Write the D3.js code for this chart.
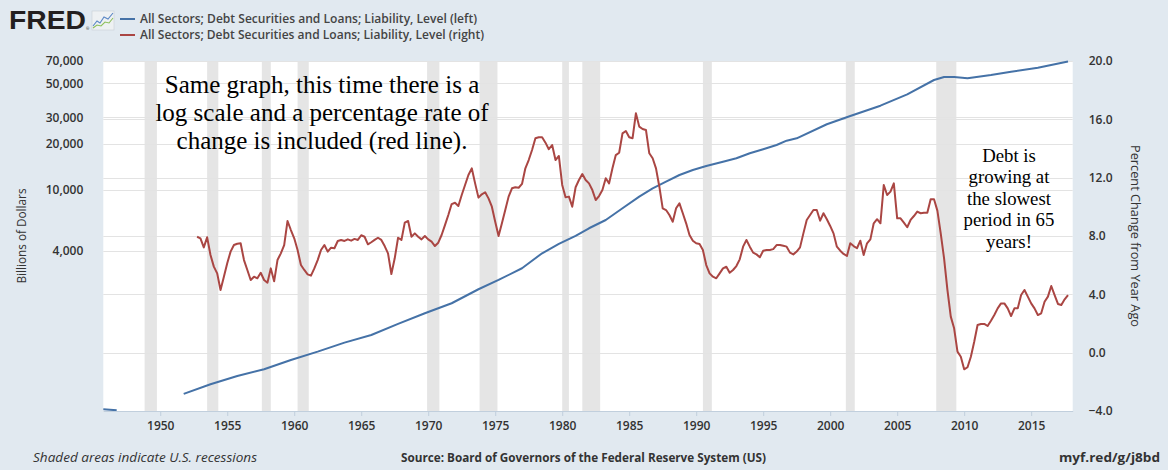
<!DOCTYPE html>
<html>
<head>
<meta charset="utf-8">
<script src="https://cdn.jsdelivr.net/npm/d3@7"></script>
<style>
  html, body { margin: 0; padding: 0; background: #e1e9f0; }
  svg { display: block; }
  text { font-family: "Open Sans", "DejaVu Sans", sans-serif; }
</style>
</head>
<body>
<div id="chart"></div>
<script>
// x ticks (years)
const xTicks = [1950, 1955, 1960, 1965, 1970, 1975, 1980, 1985, 1990, 1995, 2000, 2005, 2010, 2015];
// left axis: log scale, billions of dollars
const leftTicks = [4000, 10000, 20000, 30000, 50000, 70000];
// right axis: percent change from year ago
const rightTicks = [-4, 0, 4, 8, 12, 16, 20];

// NBER recessions, decimal years (peak -> trough)
const recessionStarts = [1948.833, 1953.5, 1957.583, 1960.25, 1969.917, 1973.833, 1980.0, 1981.5, 1990.5, 2001.167, 2007.917];
const recessionEnds   = [1949.75, 1954.333, 1958.25, 1961.083, 1970.833, 1975.167, 1980.5, 1982.833, 1991.167, 2001.833, 2009.417];

// blue series: level, billions of dollars (null = gap in data)
const blueDates = [1945.75, 1946.75, 1947.75, 1951.75, 1953.75, 1955.75, 1957.75, 1959.75, 1961.75, 1963.75,
  1965.75, 1967.75, 1969.75, 1971.75, 1973.75, 1975.25, 1977.0, 1978.5, 1979.75, 1981.0,
  1982.0, 1983.25, 1984.5, 1985.75, 1986.75, 1987.75, 1988.75, 1989.75, 1990.75, 1992.0,
  1993.0, 1994.0, 1995.0, 1996.0, 1996.75, 1997.5, 1999.75, 2001.5, 2003.75, 2005.75,
  2007.75, 2008.5, 2009.25, 2010.25, 2012.0, 2013.5, 2015.5, 2017.75];
const blueValues = [366, 361, null, 462, 534, 605, 670, 771, 874, 1001,
  1124, 1327, 1559, 1813, 2239, 2576, 3073, 3853, 4434, 5003,
  5617, 6365, 7596, 9045, 10266, 11340, 12546, 13530, 14372, 15330,
  16141, 17400, 18486, 19720, 21049, 21822, 26960, 30540, 35670, 42360,
  52560, 55000, 55000, 53900, 56670, 59570, 63280, 69500];

// red series: percent change from year ago, quarterly from 1952 Q4
const redStart = 1952.75;
const redValues = [
  7.95,
  7.84, 7.22, 7.91, 6.70,   // 1953
  5.90, 5.44, 4.30, 5.21,   // 1954
  6.13, 6.93, 7.38, 7.47,
  7.50, 6.35, 5.67, 4.98,
  5.21, 5.10, 5.48, 4.98,
  4.80, 5.78, 4.89, 6.35,
  6.81, 7.38, 9.03, 8.41,   // 1959
  7.84, 7.04, 6.01, 5.67,   // 1960
  5.37, 5.28, 5.78, 6.35,
  7.04, 7.38, 6.93, 7.20,
  7.16, 7.66, 7.73, 7.66,
  7.77, 7.68, 7.80, 7.73,
  8.05, 7.95, 7.43, 7.57,   // 1965
  7.73, 7.88, 7.73, 7.31,
  6.81, 5.39, 6.47, 7.88,
  7.73, 8.92, 9.03, 7.95,
  8.18, 7.95, 7.77, 8.00,   // 1969
  7.77, 7.61, 7.31, 7.54,   // 1970
  8.07, 8.75, 9.44, 10.19,
  10.28, 10.06, 10.81, 11.50,
  12.18, 12.64, 11.61, 10.63,
  10.86, 11.00, 10.58, 10.01,
  8.98, 8.00, 8.87, 9.78,   // 1975
  10.70, 11.27, 11.34, 11.31,
  11.57, 12.64, 13.21, 13.90,
  14.70, 14.77, 14.77, 14.40,
  13.95, 14.24, 13.21, 13.49,
  11.50, 10.65, 10.70, 10.01, // 1980
  11.34, 11.84, 12.25, 11.84,
  11.61, 11.15, 10.47, 10.74,
  11.15, 11.96, 11.61, 12.64,
  13.55, 13.71, 15.04, 15.20,
  14.77, 14.70, 16.41, 15.50, // 1985
  15.34, 15.27, 13.67, 13.33,
  12.64, 11.38, 9.90, 9.78,
  9.44, 8.98, 9.90, 10.24,
  9.56, 8.87, 8.07, 7.68,
  7.50, 7.45, 7.04, 6.01,   // 1990
  5.44, 5.21, 5.10, 5.44,
  5.78, 5.89, 5.48, 5.67,
  5.94, 6.40, 7.27, 7.73,
  7.27, 6.86, 6.74, 6.54,
  6.99, 7.04, 7.04, 7.10,   // 1995
  7.38, 7.38, 7.33, 7.27,
  6.86, 6.74, 6.93, 7.22,
  8.18, 9.10, 9.44, 9.78,
  9.78, 9.05, 9.56, 9.15,
  8.69, 8.18, 7.27, 6.99,   // 2000
  6.77, 6.63, 7.50, 7.31,
  7.16, 7.68, 6.70, 7.50,
  7.77, 8.87, 9.15, 8.87,
  11.50, 10.81, 11.04, 11.61,
  9.21, 9.21, 8.92, 8.60,   // 2005
  9.10, 9.37, 9.67, 9.56,
  9.60, 9.60, 10.52, 10.52,
  9.74, 8.18, 6.47, 4.30,
  2.47, 1.67, 0.07, -0.28,
  -1.14, -1.00, -0.28, 0.75, // 2010
  1.90, 1.97, 1.97, 1.83,
  2.19, 2.58, 3.04, 3.38,
  3.38, 3.04, 2.51, 3.04,
  3.04, 3.95, 4.30, 3.84,
  3.38, 3.04, 2.58, 2.70,   // 2015
  3.49, 3.84, 4.57, 3.95,
  3.34, 3.27, 3.66, 3.95
];

const legendLabels = [
  'All Sectors; Debt Securities and Loans; Liability, Level (left)',
  'All Sectors; Debt Securities and Loans; Liability, Level (right)'
];
const noteLeft = ['Same graph, this time there is a', 'log scale and a percentage rate of', 'change is included (red line).'];
const noteRight = ['Debt is', 'growing at', 'the slowest', 'period in 65', 'years!'];

const W = 1168, H = 470;
const plot = { left: 103.3, right: 1072.7, top: 61, bottom: 411 };
const blueColor = '#4572a7';
const redColor = '#aa4643';
const textColor = '#333333';

const svg = d3.select('#chart').append('svg')
  .attr('width', W).attr('height', H)
  .attr('viewBox', `0 0 ${W} ${H}`);

svg.append('rect').attr('width', W).attr('height', H).attr('fill', '#e1e9f0');

const x = d3.scaleLinear().domain([1945.75, 2018.1]).range([plot.left, plot.right]);
const yLeft = d3.scaleLog().domain([357, 70000]).range([plot.bottom, plot.top]);
const yRight = d3.scaleLinear().domain([-4, 20]).range([plot.bottom, plot.top]);

// plot background
svg.append('rect')
  .attr('x', plot.left).attr('y', plot.top)
  .attr('width', plot.right - plot.left).attr('height', plot.bottom - plot.top)
  .attr('fill', '#ffffff');

// recession shading
svg.append('g').selectAll('rect')
  .data(recessionStarts.map((s, i) => ({ s, e: recessionEnds[i] })))
  .join('rect')
  .attr('x', d => x(d.s))
  .attr('width', d => x(d.e) - x(d.s))
  .attr('y', plot.top)
  .attr('height', plot.bottom - plot.top)
  .attr('fill', '#e5e5e5');

// gridlines for both axes
const grid = svg.append('g').attr('stroke', '#e3e3e3').attr('stroke-width', 1);
grid.selectAll('line.gl')
  .data(leftTicks)
  .join('line').attr('class', 'gl')
  .attr('x1', plot.left).attr('x2', plot.right)
  .attr('y1', d => Math.round(yLeft(d)) + 0.5).attr('y2', d => Math.round(yLeft(d)) + 0.5);
grid.selectAll('line.gr')
  .data(rightTicks)
  .join('line').attr('class', 'gr')
  .attr('x1', plot.left).attr('x2', plot.right)
  .attr('y1', d => Math.round(yRight(d)) + 0.5).attr('y2', d => Math.round(yRight(d)) + 0.5);

// series
const blueData = blueDates.map((t, i) => ({ t, v: blueValues[i] }));
const redData = redValues.map((v, i) => ({ t: redStart + i * 0.25, v }));

svg.append('path')
  .datum(blueData)
  .attr('fill', 'none')
  .attr('stroke', blueColor)
  .attr('stroke-width', 2)
  .attr('stroke-linejoin', 'round')
  .attr('d', d3.line().defined(d => d.v != null).x(d => x(d.t)).y(d => yLeft(d.v)));

svg.append('path')
  .datum(redData)
  .attr('fill', 'none')
  .attr('stroke', redColor)
  .attr('stroke-width', 2)
  .attr('stroke-linejoin', 'round')
  .attr('d', d3.line().x(d => x(d.t)).y(d => yRight(d.v)));

// x axis
const xAxis = svg.append('g')
  .attr('transform', `translate(0,${plot.bottom})`)
  .call(d3.axisBottom(x).tickValues(xTicks).tickFormat(d3.format('d')).tickSize(5).tickSizeOuter(0).tickPadding(5));
xAxis.select('.domain').attr('stroke', '#c1cfdd');
xAxis.selectAll('.tick line').attr('stroke', '#c1cfdd');
xAxis.selectAll('.tick text').attr('fill', textColor).style('font-size', '12px').style('font-weight', 600);

// left axis
const lAxis = svg.append('g')
  .attr('transform', `translate(${plot.left},0)`)
  .call(d3.axisLeft(yLeft).tickValues(leftTicks).tickFormat(d3.format(',')).tickSize(0).tickPadding(20));
lAxis.select('.domain').remove();
lAxis.selectAll('.tick text').attr('fill', textColor).style('font-size', '12px').style('font-weight', 600);

// right axis
const rAxis = svg.append('g')
  .attr('transform', `translate(${plot.right},0)`)
  .call(d3.axisRight(yRight).tickValues(rightTicks).tickFormat(d3.format('.1f')).tickSize(0).tickPadding(16));
rAxis.select('.domain').remove();
rAxis.selectAll('.tick text').attr('fill', textColor).style('font-size', '12px').style('font-weight', 600);

// axis titles
svg.append('text')
  .attr('transform', 'translate(26,236) rotate(-90)')
  .attr('text-anchor', 'middle')
  .attr('fill', textColor)
  .attr('textLength', 95).attr('lengthAdjust', 'spacingAndGlyphs')
  .style('font-size', '12.5px')
  .text('Billions of Dollars');
svg.append('text')
  .attr('transform', 'translate(1131,236) rotate(90)')
  .attr('text-anchor', 'middle')
  .attr('fill', textColor)
  .attr('textLength', 182).attr('lengthAdjust', 'spacingAndGlyphs')
  .style('font-size', '12.5px')
  .text('Percent Change from Year Ago');

// FRED logo
const logo = svg.append('g');
logo.append('text')
  .attr('x', 9).attr('y', 29)
  .attr('textLength', 77).attr('lengthAdjust', 'spacingAndGlyphs')
  .style('font-family', '"Liberation Sans", Arial, sans-serif')
  .style('font-size', '25px').style('font-weight', 900)
  .attr('fill', '#231f20')
  .text('FRED');
logo.append('text')
  .attr('x', 86).attr('y', 30)
  .style('font-size', '4px').attr('fill', '#231f20').text('®');
logo.append('rect')
  .attr('x', 92).attr('y', 11).attr('width', 22).attr('height', 19)
  .attr('fill', '#eef1f3').attr('stroke', '#c8cfd6').attr('stroke-width', 0.6);
logo.append('polyline')
  .attr('points', '93,26 97,21 100,23 104,17 108,19 113,13')
  .attr('fill', 'none').attr('stroke', '#5b87c5').attr('stroke-width', 1.1);
logo.append('polyline')
  .attr('points', '93,28 97,25 101,26 105,22 109,23 113,18')
  .attr('fill', 'none').attr('stroke', '#8cbf5a').attr('stroke-width', 1.1);

// legend
const legendLengths = [337, 344];
const legend = svg.append('g');
legendLabels.forEach((label, i) => {
  const ly = 19 + i * 16;
  legend.append('line')
    .attr('x1', 120).attr('x2', 135).attr('y1', ly).attr('y2', ly)
    .attr('stroke', i === 0 ? blueColor : redColor).attr('stroke-width', 2);
  legend.append('text')
    .attr('x', 140).attr('y', ly + 4)
    .attr('fill', '#444444')
    .attr('textLength', legendLengths[i]).attr('lengthAdjust', 'spacingAndGlyphs')
    .style('font-size', '12px').style('font-weight', 600)
    .text(label);
});

// annotations
svg.append('text')
  .attr('text-anchor', 'middle')
  .style('font-family', '"Liberation Serif", "Times New Roman", serif')
  .style('font-size', '25px')
  .attr('fill', '#000')
  .selectAll('tspan')
  .data(noteLeft)
  .join('tspan')
  .attr('x', 322)
  .attr('y', (d, i) => 93 + i * 27.8)
  .text(d => d);

svg.append('text')
  .attr('text-anchor', 'middle')
  .style('font-family', '"Liberation Serif", "Times New Roman", serif')
  .style('font-size', '18.8px')
  .attr('fill', '#000')
  .selectAll('tspan')
  .data(noteRight)
  .join('tspan')
  .attr('x', 1009)
  .attr('y', (d, i) => 162 + i * 21.4)
  .text(d => d);

// footer
svg.append('text')
  .attr('x', 33).attr('y', 462)
  .attr('fill', textColor)
  .attr('textLength', 224).attr('lengthAdjust', 'spacingAndGlyphs')
  .style('font-size', '12px').style('font-style', 'italic')
  .text('Shaded areas indicate U.S. recessions');
svg.append('text')
  .attr('x', 401).attr('y', 462)
  .attr('fill', textColor)
  .attr('textLength', 365).attr('lengthAdjust', 'spacingAndGlyphs')
  .style('font-size', '12px').style('font-weight', 700)
  .text('Source: Board of Governors of the Federal Reserve System (US)');
svg.append('text')
  .attr('x', 1160).attr('y', 462)
  .attr('text-anchor', 'end')
  .attr('fill', textColor)
  .attr('textLength', 101).attr('lengthAdjust', 'spacingAndGlyphs')
  .style('font-size', '12px').style('font-weight', 700)
  .text('myf.red/g/j8bd');
</script>
</body>
</html>
